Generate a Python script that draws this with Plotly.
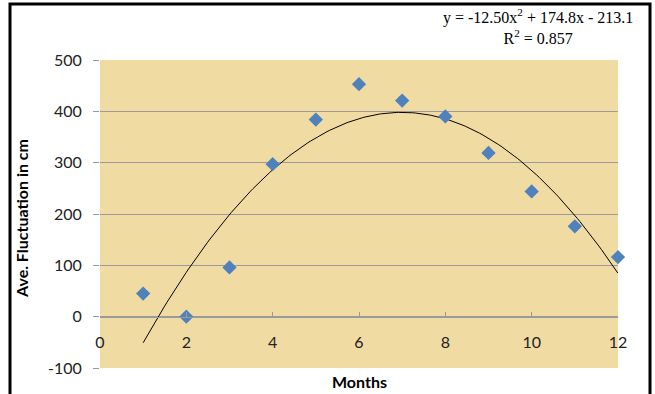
import numpy as np
import plotly.graph_objects as go

# Data
months = [1, 2, 3, 4, 5, 6, 7, 8, 9, 10, 11, 12]
fluctuation = [45, 0, 96, 297, 384, 453, 421, 390, 319, 244, 176, 116]

# Polynomial trendline coefficients shown on the chart (a*x^2 + b*x + c)
trend_coeffs = [-12.50, 174.8, -213.1]
trend_x = np.linspace(1, 12, 200)
trend_y = np.polyval(trend_coeffs, trend_x)

y_ticks = [-100, 0, 100, 200, 300, 400, 500]
x_ticks = [0, 2, 4, 6, 8, 10, 12]

# layout geometry (pixels)
W, H = 655, 394
L, R, T, B = 100, 618, 60, 368
pw, ph = R - L, B - T

def px_x(x):
    return (x - L) / pw

def px_y(y):
    return (B - y) / ph

fig = go.Figure()
fig.add_trace(go.Scatter(
    x=trend_x, y=trend_y, mode="lines",
    line=dict(color="#000000", width=1), hoverinfo="skip", showlegend=False))
fig.add_trace(go.Scatter(
    x=months, y=fluctuation, mode="markers",
    marker=dict(symbol="diamond", size=11, color="#4F81BD"),
    cliponaxis=False, showlegend=False))

font_main = "Lato, 'Open Sans', sans-serif"

fig.update_layout(
    width=W, height=H,
    margin=dict(l=L, r=W - R, t=T, b=H - B),
    paper_bgcolor="#FFFFFF",
    plot_bgcolor="#F0DBA3",
    font=dict(family=font_main, size=16, color="#222222"),
    xaxis=dict(
        range=[0, 12], tickvals=x_ticks, ticktext=[str(v) for v in x_ticks],
        showgrid=False, zeroline=False,
        showline=True, linecolor="#9A9A9A", linewidth=1,
        ticks="inside", ticklen=5, tickcolor="#9A9A9A",
        anchor="free", position=1/6, ticklabelstandoff=11,
        tickfont=dict(size=16, family=font_main, color="#222222"),
    ),
    yaxis=dict(
        range=[-100, 500], tickvals=y_ticks, ticktext=[str(v) for v in y_ticks],
        showgrid=True, gridcolor="#9A9A9A", gridwidth=1, zeroline=False,
        showline=False,
        ticks="outside", ticklen=6, tickcolor="#9A9A9A",
        ticklabelstandoff=8,
        tickfont=dict(size=16, family=font_main, color="#222222"),
    ),
    annotations=[
        dict(text="<b>Ave. Fluctuation in cm</b>", xref="paper", yref="paper",
             x=px_x(22), y=px_y(219), textangle=-90, showarrow=False,
             xanchor="center", yanchor="middle",
             font=dict(size=16, family=font_main, color="#000000")),
        dict(text="<b>Months</b>", xref="paper", yref="paper",
             x=px_x(359), y=px_y(381), showarrow=False,
             xanchor="center", yanchor="middle",
             font=dict(size=16, family=font_main, color="#000000")),
        dict(text="y = -12.50x<sup>2</sup> + 174.8x - 213.1<br>R<sup>2</sup> = 0.857",
             xref="paper", yref="paper", x=px_x(538), y=px_y(27),
             showarrow=False, xanchor="center", yanchor="middle", align="center",
             font=dict(size=16, family="'Liberation Serif', 'DejaVu Serif', serif",
                       color="#000000")),
    ],
    shapes=[
        dict(type="rect", xref="paper", yref="paper",
             x0=px_x(10), x1=px_x(650), y0=px_y(4), y1=px_y(410),
             line=dict(color="#000000", width=3), fillcolor="rgba(0,0,0,0)",
             layer="above"),
    ],
)

fig.write_html("out.html",
               config={"displayModeBar": False},
               post_script="document.body.style.margin='0';document.body.style.overflow='hidden';")
